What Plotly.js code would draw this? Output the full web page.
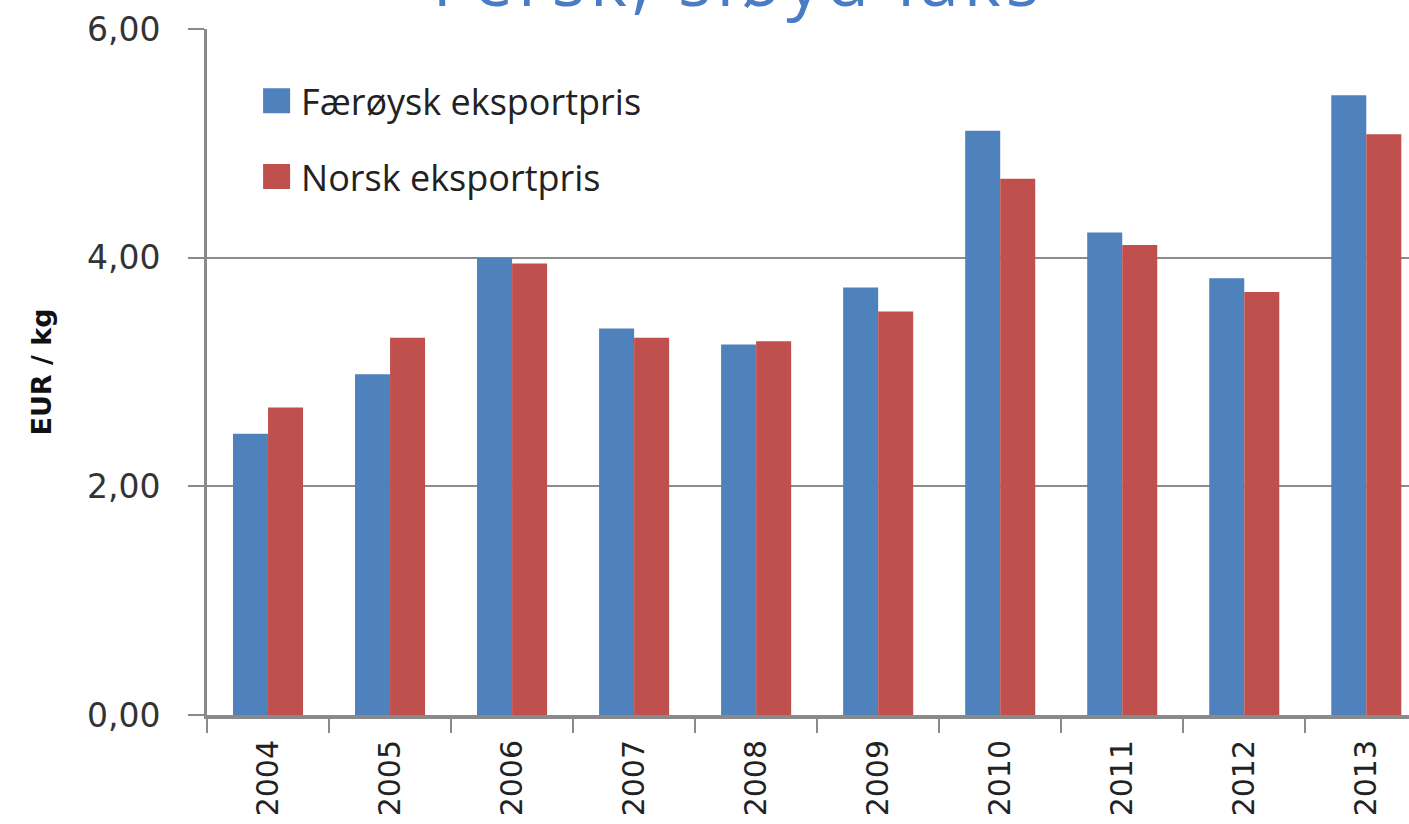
<!DOCTYPE html>
<html>
<head>
<meta charset="utf-8">
<script src="https://cdn.plot.ly/plotly-3.0.1.min.js"></script>
<style>
html,body{margin:0;padding:0;background:#fff;}
#chart{width:1409px;height:824px;}
.gtitle{letter-spacing:5px;}
</style>
</head>
<body>
<div id="chart"></div>
<script>
const years = ['2004','2005','2006','2007','2008','2009','2010','2011','2012','2013'];
const faroesePrice = [2.46, 2.98, 4.00, 3.38, 3.24, 3.74, 5.11, 4.22, 3.82, 5.42];
const norwegianPrice = [2.69, 3.30, 3.95, 3.30, 3.27, 3.53, 4.69, 4.11, 3.70, 5.08];
const seriesNames = ['Færøysk eksportpris', 'Norsk eksportpris'];
const yTicks = [0, 2, 4, 6];

const traces = [
  {type:'bar', name:seriesNames[0], x:years, y:faroesePrice, legendgroup:'a',
   marker:{color:'#4F81BD'}, hoverinfo:'x+y'},
  {type:'bar', name:seriesNames[1], x:years, y:norwegianPrice, legendgroup:'b',
   marker:{color:'#C0504D'}, hoverinfo:'x+y'}
];

const layout = {
  width:1409, height:824,
  margin:{l:207, r:0, t:29, b:109, pad:0},
  paper_bgcolor:'#ffffff', plot_bgcolor:'#ffffff',
  separators:',.',
  barmode:'group', bargap:0.426, bargroupgap:0,
  title:{text:'Fersk, sløyd laks', font:{family:'Open Sans', size:70, color:'#4A7CC6'},
         x:0.524, xanchor:'center', yref:'container', y:0.993, yanchor:'bottom'},
  showlegend:true,
  legend:{x:0.045, xanchor:'left', y:0.939, yanchor:'top', bgcolor:'rgba(0,0,0,0)',
          font:{family:'Open Sans', size:36, color:'#222'}, tracegroupgap:26, traceorder:'grouped',
          itemwidth:30},
  xaxis:{type:'category', range:[-0.5, 9.35], tickson:'boundaries', ticks:'outside', ticklen:14,
         tickwidth:2, tickcolor:'#8a8a8a', showline:true, linecolor:'#8a8a8a', linewidth:4,
         tickangle:-90, tickfont:{family:'DejaVu Sans', size:30, color:'#222'},
         ticklabelstandoff:9, showgrid:false, fixedrange:true},
  yaxis:{range:[0,6], tickvals:yTicks, tickformat:'.2f', ticks:'outside', ticklen:16, tickwidth:2,
         tickcolor:'#8a8a8a', showline:true, linecolor:'#8a8a8a', linewidth:3,
         showgrid:true, gridcolor:'#8c8c8c', gridwidth:2, zeroline:false,
         tickfont:{family:'DejaVu Sans', size:33, color:'#333'}, ticklabelstandoff:21,
         title:{text:'<b>EUR / kg</b>', font:{family:'DejaVu Sans', size:27, color:'#111'}, standoff:28},
         fixedrange:true}
};

Plotly.newPlot('chart', traces, layout, {displayModeBar:false, responsive:false}).then(function(gd){
  gd.querySelectorAll('.legend .legendpoints path').forEach(function(p){
    p.setAttribute('d', 'M9,12.5H-18V-12.5H9Z');
  });
});
</script>
</body>
</html>
